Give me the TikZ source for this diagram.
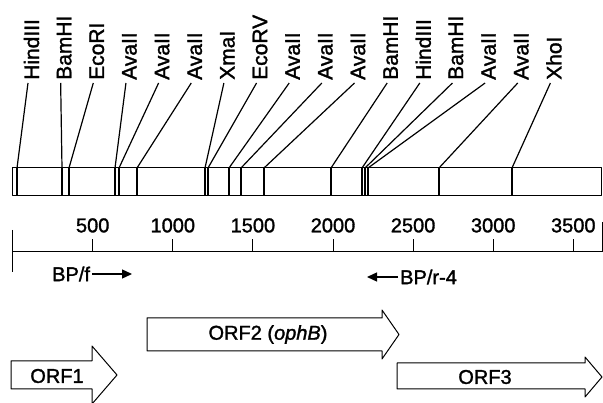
\documentclass[tikz,border=0pt]{standalone}
\usepackage{fontspec}
\setmainfont{Liberation Sans}[BoldFont={Liberation Sans}, BoldFeatures={FakeBold=1.5},
  BoldItalicFont={Liberation Sans Italic}, BoldItalicFeatures={FakeBold=1.5}]
\usetikzlibrary{arrows.meta}

\begin{document}
\begin{tikzpicture}[x=1pt, y=-1pt, line join=round,
  every node/.style={font=\fontsize{20}{24}\selectfont\bfseries, inner sep=0pt},
  site/.style={rotate=90, anchor=west, font=\fontsize{21}{24}\selectfont\bfseries},
  cut/.style={line width=1.8pt},
  leader/.style={line width=1.2pt},
  orf/.style={draw, line width=1pt},
  primer/.style={line width=1.3pt, -{Triangle[length=10pt,width=9pt]}}]
  \useasboundingbox (0,0) rectangle (603,403);
  % restriction map
  \draw[line width=1pt] (12,168) rectangle (601,196);
  \foreach \name/\pos [count=\n] in {HindIII/17, BamHI/62, EcoRI/69, AvaII/115,
      AvaII/119, AvaII/137, XmaI/205, EcoRV/208, AvaII/229, AvaII/241, AvaII/264,
      BamHI/331, HindIII/362, BamHI/365, AvaII/368, AvaII/439, XhoI/512}{
    \node[site] (s\n) at ({31.5+32.65*(\n-1)}, 80) {\name};
    \coordinate (c\n) at (\pos,168);
    \coordinate (b\n) at (\pos,196);
    \draw[leader] ([shift={(-3.5,3)}]s\n.west) -- (c\n);
    \draw[cut] (c\n) -- (b\n);
  }
  % scale (bp)
  \draw[line width=1pt] (12.6,252) -- (602,252);
  \draw[line width=1pt] (12.6,230) -- (12.6,272);
  \draw[line width=1pt] (602,222) -- (602,252);
  \foreach \bp [count=\k] in {500,1000,...,3500}{
    \draw[line width=1pt] ({12.6+80.1*\k},252) -- ++(0,-13)
      node[above=6pt] (t\k) {\bp};
  }
  % primers
  \node[anchor=west] (bpf) at (52,274) {BP/f};
  \coordinate (bpfend) at (132,274);
  \draw[primer] ([xshift=2pt]bpf.east) -- (bpfend);
  \node[anchor=west] (bpr) at (400,277) {BP/r-4};
  \coordinate (bprend) at (367,277);
  \draw[primer] ([xshift=-2pt]bpr.west) -- (bprend);
  % open reading frames
  \draw[orf] (11,361) -- (92,361) -- (92,346) -- (117,375) -- (92,404)
    -- (92,389) -- (11,389) -- cycle;
  \node (orf1) at (57,376) {ORF1};
  \draw[orf] (147,318) -- (382,318) -- (382,310) -- (399,334.5) -- (382,359)
    -- (382,351) -- (147,351) -- cycle;
  \node (orf2) at (268,334.5) {ORF2 (\textit{ophB})};
  \draw[orf] (397,363) -- (585,363) -- (585,357) -- (602,377) -- (585,397)
    -- (585,389) -- (397,389) -- cycle;
  \node (orf3) at (485,377) {ORF3};
\end{tikzpicture}
\end{document}
